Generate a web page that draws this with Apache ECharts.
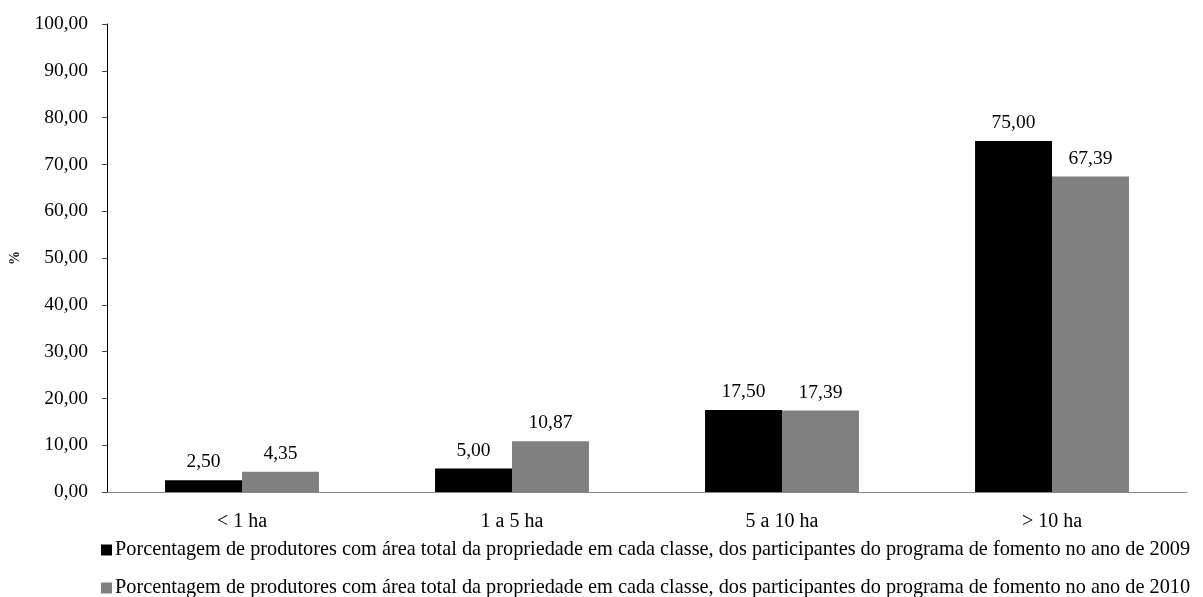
<!DOCTYPE html>
<html>
<head>
<meta charset="utf-8">
<script src="https://cdn.jsdelivr.net/npm/echarts@6/dist/echarts.min.js"></script>
<style>
html,body{margin:0;padding:0;background:#fff;}
#chart{width:1203px;height:597px;}
</style>
</head>
<body>
<div id="chart"></div>
<script>
const categories = ['< 1 ha', '1 a 5 ha', '5 a 10 ha', '> 10 ha'];
const seriesNames = [
  'Porcentagem de produtores com área total da propriedade em cada classe, dos participantes do programa de fomento no ano de 2009',
  'Porcentagem de produtores com área total da propriedade em cada classe, dos participantes do programa de fomento no ano de 2010'
];
const values2009 = [2.50, 5.00, 17.50, 75.00];
const values2010 = [4.35, 10.87, 17.39, 67.39];
const yTicks = { min: 0, max: 100, interval: 10 };

const FONT = '"Liberation Serif", "Times New Roman", serif';
const fmt = v => Number(v).toFixed(2).replace('.', ',');

const chart = echarts.init(document.getElementById('chart'), null, { renderer: 'canvas' });
chart.setOption({
  animation: false,
  backgroundColor: '#ffffff',
  textStyle: { fontFamily: FONT },
  grid: { left: 102, right: 16, top: 24, bottom: 105, containLabel: false },
  legend: {
    orient: 'vertical',
    left: 101,
    top: 540,
    height: 120,
    padding: 0,
    itemWidth: 11,
    itemHeight: 11,
    itemGap: 18,
    icon: 'rect',
    textStyle: { fontFamily: FONT, fontSize: 20.3, color: '#000', padding: [0, 0, 0, -2] },
    data: seriesNames
  },
  xAxis: {
    type: 'category',
    data: categories,
    axisLine: { show: true, lineStyle: { color: '#888888', width: 1 } },
    axisTick: { show: false },
    axisLabel: { fontFamily: FONT, fontSize: 20, color: '#000', margin: 20 }
  },
  yAxis: {
    type: 'value',
    min: yTicks.min,
    max: yTicks.max,
    interval: yTicks.interval,
    name: '%',
    nameLocation: 'middle',
    nameGap: 85,
    nameRotate: 90,
    nameTextStyle: { fontFamily: FONT, fontSize: 14, fontWeight: 'bold', color: '#222' },
    axisLine: { show: true, lineStyle: { color: '#000', width: 1 } },
    axisTick: { show: true, length: 5, inside: false, lineStyle: { color: '#444' } },
    splitLine: { show: false },
    axisLabel: { fontFamily: FONT, fontSize: 19.5, color: '#000', margin: 19, formatter: fmt }
  },
  series: [
    {
      name: seriesNames[0],
      type: 'bar',
      data: values2009,
      barGap: '0%',
      barCategoryGap: '43%',
      itemStyle: { color: '#000000' },
      label: { show: true, position: 'top', distance: 8, fontFamily: FONT, fontSize: 19.5, color: '#000', formatter: p => fmt(p.value) }
    },
    {
      name: seriesNames[1],
      type: 'bar',
      data: values2010,
      barGap: '0%',
      barCategoryGap: '43%',
      itemStyle: { color: '#808080' },
      label: { show: true, position: 'top', distance: 8, fontFamily: FONT, fontSize: 19.5, color: '#000', formatter: p => fmt(p.value) }
    }
  ]
});
</script>
</body>
</html>
